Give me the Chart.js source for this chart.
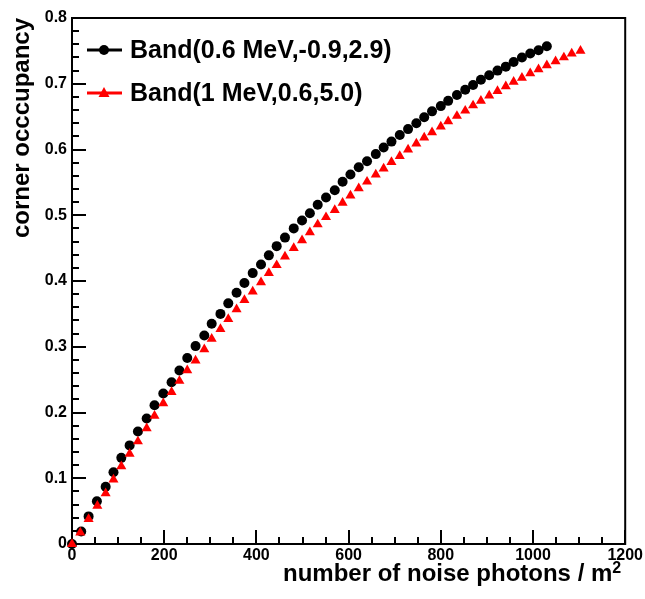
<!DOCTYPE html>
<html>
<head>
<meta charset="utf-8">
<script src="https://cdn.jsdelivr.net/npm/chart.js@4.4.1/dist/chart.umd.min.js"></script>
<style>
  html, body { margin: 0; padding: 0; background: #fff; }
  canvas { display: block; }
</style>
</head>
<body>
<canvas id="occChart" width="645" height="599"></canvas>
<script>
// values
const blackX = [0, 20, 36, 54, 73, 90, 107, 125, 143, 162, 179, 198, 216, 233, 250, 268, 287, 303, 322, 339,
  357, 374, 392, 410, 427, 444, 462, 481, 499, 516, 533, 551, 570, 587, 604, 622, 640, 659, 676, 693,
  711, 729, 747, 764, 781, 800, 816, 835, 853, 870, 887, 905, 923, 941, 958, 976, 994, 1012, 1030];
const blackY = [0, 0.019, 0.042, 0.065, 0.087, 0.109, 0.131, 0.150, 0.171, 0.191, 0.211, 0.229, 0.246, 0.264, 0.283, 0.301, 0.317, 0.335, 0.350, 0.366,
  0.382, 0.397, 0.412, 0.425, 0.439, 0.453, 0.466, 0.480, 0.492, 0.503, 0.516, 0.527, 0.538, 0.551, 0.562, 0.573, 0.582, 0.593, 0.603, 0.612,
  0.622, 0.631, 0.640, 0.649, 0.658, 0.666, 0.674, 0.683, 0.691, 0.698, 0.706, 0.713, 0.720, 0.726, 0.733, 0.740, 0.746, 0.751, 0.757];

const redX = [0, 18, 36, 55, 73, 90, 107, 125, 143, 162, 179, 198, 216, 233, 250, 268, 287, 303, 322, 339,
  357, 374, 392, 410, 427, 444, 462, 481, 499, 516, 533, 551, 570, 587, 604, 622, 640, 659, 676, 693,
  711, 729, 747, 764, 781, 800, 816, 835, 853, 870, 887, 905, 923, 941, 958, 976, 994, 1012, 1030, 1049,
  1067, 1084, 1103];
const redY = [0, 0.0175, 0.038, 0.058, 0.077, 0.098, 0.118, 0.137, 0.156, 0.176, 0.195, 0.214, 0.231, 0.248, 0.264, 0.279, 0.296, 0.312, 0.327, 0.342,
  0.357, 0.371, 0.384, 0.398, 0.412, 0.424, 0.437, 0.450, 0.462, 0.474, 0.486, 0.497, 0.508, 0.519, 0.530, 0.541, 0.551, 0.562, 0.571, 0.581,
  0.590, 0.600, 0.609, 0.618, 0.626, 0.635, 0.643, 0.651, 0.659, 0.667, 0.674, 0.682, 0.689, 0.696, 0.703, 0.709, 0.716, 0.722, 0.728, 0.734,
  0.740, 0.746, 0.750];

const seriesLabels = ["Band(0.6 MeV,-0.9,2.9)", "Band(1 MeV,0.6,5.0)"];

const xTicks = [0, 200, 400, 600, 800, 1000, 1200];
const xTickLabels = ["0", "200", "400", "600", "800", "1000", "1200"];
const yTicks = [0, 0.1, 0.2, 0.3, 0.4, 0.5, 0.6, 0.7, 0.8];
const yTickLabels = ["0", "0.1", "0.2", "0.3", "0.4", "0.5", "0.6", "0.7", "0.8"];

const xTitle = "number of noise photons / m";
const yTitle = "corner occcupancy";

const FONT = "'Liberation Sans', Arial, sans-serif";

function toPoints(xs, ys) {
  return xs.map((x, i) => ({ x: x, y: ys[i] }));
}

// ROOT-like frame with inward ticks, axis titles and the legend box
const rootFrame = {
  id: "rootFrame",
  beforeDatasetsDraw(chart) {
    const { ctx, chartArea: a, scales } = chart;
    const x = scales.x, y = scales.y;
    ctx.save();
    ctx.strokeStyle = "#000";
    ctx.lineWidth = 2;
    ctx.strokeRect(a.left, a.top, a.right - a.left, a.bottom - a.top);

    ctx.beginPath();
    for (let i = 0; i <= 24; i++) {
      const px = Math.round(x.getPixelForValue(i * 50));
      const len = i % 4 === 0 ? 14 : 7;
      ctx.moveTo(px, a.bottom);
      ctx.lineTo(px, a.bottom - len);
    }
    for (let i = 0; i <= 40; i++) {
      const py = Math.round(y.getPixelForValue(i * 0.02));
      const len = i % 5 === 0 ? 14 : 7;
      ctx.moveTo(a.left, py);
      ctx.lineTo(a.left + len, py);
    }
    ctx.stroke();
    ctx.restore();
  },
  afterDraw(chart) {
    const { ctx, chartArea: a } = chart;
    ctx.save();
    ctx.fillStyle = "#000";

    // x title, right aligned to the axis end, with superscript
    ctx.font = "bold 16px " + FONT;
    const supW = ctx.measureText("2").width;
    ctx.textAlign = "right";
    ctx.textBaseline = "alphabetic";
    ctx.fillText("2", a.right - 4, 573);
    ctx.font = "bold 24px " + FONT;
    ctx.fillText(xTitle, a.right - 4 - supW, 581);

    // y title, rotated, right aligned to the axis top
    ctx.save();
    ctx.translate(29, a.top);
    ctx.rotate(-Math.PI / 2);
    ctx.textAlign = "right";
    ctx.fillText(yTitle, 0, 0);
    ctx.restore();

    // legend
    const ds = chart.data.datasets;
    const rows = [50, 93];
    ctx.font = "bold 25px " + FONT;
    ctx.textAlign = "left";
    ctx.textBaseline = "middle";
    ds.forEach((d, i) => {
      const yy = rows[i];
      ctx.strokeStyle = d.borderColor;
      ctx.lineWidth = 3;
      ctx.beginPath();
      ctx.moveTo(87, yy);
      ctx.lineTo(122, yy);
      ctx.stroke();
      ctx.fillStyle = d.backgroundColor;
      ctx.beginPath();
      if (d.pointStyle === "circle") {
        ctx.arc(104, yy, 5, 0, Math.PI * 2);
      } else {
        ctx.moveTo(104, yy - 6);
        ctx.lineTo(109.5, yy + 4);
        ctx.lineTo(98.5, yy + 4);
        ctx.closePath();
      }
      ctx.fill();
      ctx.fillStyle = "#000";
      ctx.fillText(d.label, 130, yy + 1);
    });
    ctx.restore();
  }
};

const ctx = document.getElementById("occChart").getContext("2d");
new Chart(ctx, {
  type: "scatter",
  data: {
    datasets: [
      {
        label: seriesLabels[0],
        data: toPoints(blackX, blackY),
        pointStyle: "circle",
        pointRadius: 5,
        backgroundColor: "#000000",
        borderColor: "#000000",
        borderWidth: 0,
        showLine: false,
        clip: false,
        order: 1
      },
      {
        label: seriesLabels[1],
        data: toPoints(redX, redY),
        pointStyle: "triangle",
        pointRadius: 5.8,
        backgroundColor: "#ff0000",
        borderColor: "#ff0000",
        borderWidth: 0,
        showLine: false,
        clip: false,
        order: 0
      }
    ]
  },
  options: {
    responsive: false,
    animation: false,
    events: [],
    layout: { padding: { top: 18, right: 18, left: 0, bottom: 0 } },
    plugins: {
      legend: { display: false },
      tooltip: { enabled: false }
    },
    scales: {
      x: {
        type: "linear",
        min: 0,
        max: 1200,
        grid: { display: false, drawTicks: false },
        border: { display: false },
        afterFit(scale) { scale.height = 55; },
        afterBuildTicks(scale) { scale.ticks = xTicks.map(v => ({ value: v })); },
        ticks: {
          padding: 2,
          color: "#000",
          font: { family: FONT, size: 16, weight: "bold" },
          callback: (v, i) => xTickLabels[i]
        }
      },
      y: {
        type: "linear",
        min: 0,
        max: 0.8,
        grid: { display: false, drawTicks: false },
        border: { display: false },
        afterFit(scale) { scale.width = 72; },
        afterBuildTicks(scale) { scale.ticks = yTicks.map(v => ({ value: v })); },
        ticks: {
          padding: 5,
          color: "#000",
          font: { family: FONT, size: 16, weight: "bold" },
          callback: (v, i) => yTickLabels[i]
        }
      }
    }
  },
  plugins: [rootFrame]
});
</script>
</body>
</html>
